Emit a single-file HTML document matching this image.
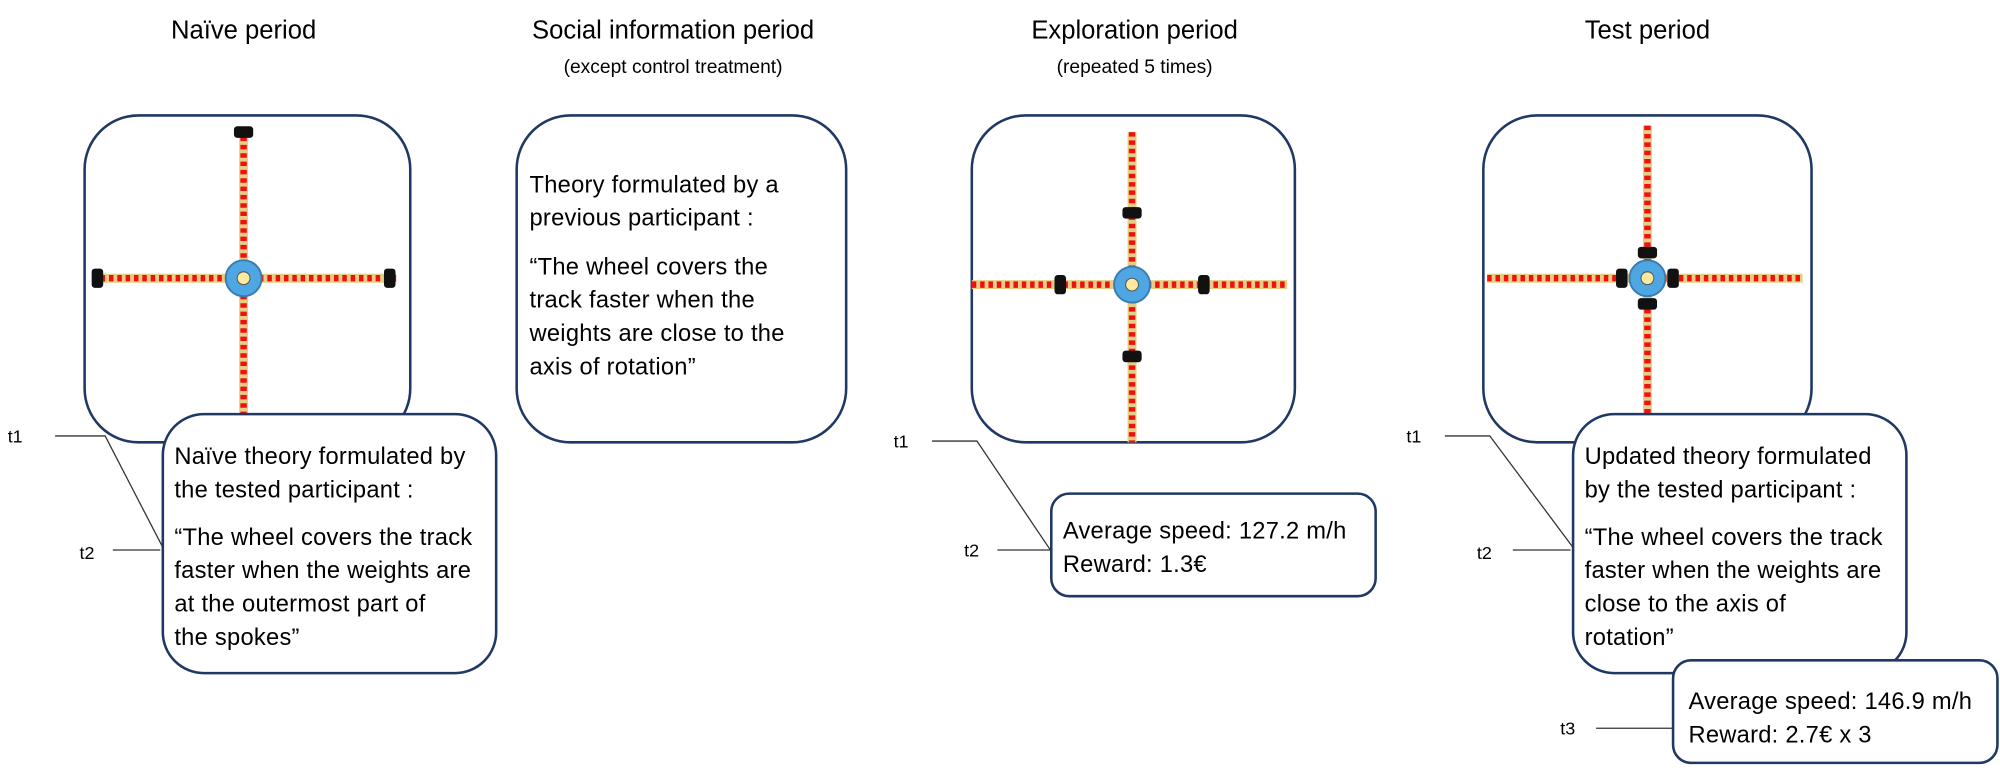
<!DOCTYPE html>
<html><head><meta charset="utf-8"><style>
html,body{margin:0;padding:0;background:#fff;}
svg{display:block;font-family:"Liberation Sans",sans-serif;}
</style></head><body>
<svg width="2000" height="768" viewBox="0 0 1560 599" xmlns="http://www.w3.org/2000/svg">
<g fill="#000" text-anchor="middle">
<text x="190" y="30" font-size="20">Naïve period</text>
<text x="525" y="30" font-size="20">Social information period</text>
<text x="525" y="57" font-size="15">(except control treatment)</text>
<text x="885" y="30" font-size="20">Exploration period</text>
<text x="885" y="57" font-size="15">(repeated 5 times)</text>
<text x="1285" y="30" font-size="20">Test period</text>
</g>
<g fill="#fff" stroke="#1f3864" stroke-width="2">
<rect x="66" y="90" width="254" height="255" rx="42"/>
<rect x="403" y="90" width="257" height="255" rx="42"/>
<rect x="758" y="90" width="252" height="255" rx="42"/>
<rect x="1157" y="90" width="256" height="255" rx="42"/>
</g>
<g id="wheels"></g>
<g fill="#fff" stroke="#1f3864" stroke-width="2">
<rect x="127" y="323" width="260" height="202" rx="32"/>
<rect x="1227" y="323" width="260" height="202" rx="32"/>
<rect x="820" y="385" width="253" height="80" rx="14"/>
<rect x="1305" y="515" width="253" height="80" rx="14"/>
</g>
<g font-size="18.5" fill="#000" letter-spacing="0.2">
<g>
<text x="136" y="362">Naïve theory formulated by</text>
<text x="136" y="388">the tested participant :</text>
<text x="136" y="425">“The wheel covers the track</text>
<text x="136" y="451">faster when the weights are</text>
<text x="136" y="477">at the outermost part of</text>
<text x="136" y="503">the spokes”</text>
</g>
<g>
<text x="413" y="150">Theory formulated by a</text>
<text x="413" y="176">previous participant :</text>
<text x="413" y="214">“The wheel covers the</text>
<text x="413" y="240">track faster when the</text>
<text x="413" y="266">weights are close to the</text>
<text x="413" y="292">axis of rotation”</text>
</g>
<g>
<text x="1236" y="362">Updated theory formulated</text>
<text x="1236" y="388">by the tested participant :</text>
<text x="1236" y="425">“The wheel covers the track</text>
<text x="1236" y="451">faster when the weights are</text>
<text x="1236" y="477">close to the axis of</text>
<text x="1236" y="503">rotation”</text>
</g>
<g>
<text x="829" y="420">Average speed: 127.2 m/h</text>
<text x="829" y="446">Reward: 1.3€</text>
</g>
<g>
<text x="1317" y="553">Average speed: 146.9 m/h</text>
<text x="1317" y="579">Reward: 2.7€ x 3</text>
</g>
</g>
<g font-size="14" fill="#000">
<text x="6" y="345">t1</text><text x="62" y="436">t2</text>
<text x="697" y="349">t1</text><text x="752" y="434">t2</text>
<text x="1097" y="345">t1</text><text x="1152" y="436">t2</text>
<text x="1217" y="573">t3</text>
</g>
<g stroke="#333" stroke-width="1" fill="none">
<polyline points="43,340 82,340 127,427"/><line x1="88" y1="429" x2="125" y2="429"/>
<polyline points="727,344 762,344 820,430"/><line x1="778" y1="429" x2="820" y2="429"/>
<polyline points="1127,340 1162,340 1227,427"/><line x1="1180" y1="429" x2="1225" y2="429"/>
<line x1="1245" y1="568" x2="1305" y2="568"/>
</g>
<script>
const wheelCenters=[[190,217,114,0],[883,222,121,1],[1285,217,121,2]];
const NS="http://www.w3.org/2000/svg";
function mk(t,a,p){const e=document.createElementNS(NS,t);for(const k in a)e.setAttribute(k,a[k]);p.appendChild(e);return e;}
const W=document.getElementById('wheels');
wheelCenters.forEach(([cx,cy,r,i])=>{
  const g=mk('g',{},W);
  
  
  const up=i===0?117:119, dn=i===0?113:123;
  const segs=[[cx-r-4,cy,cx+r+(i===0?5:0),cy],[cx,cy-up,cx,cy+dn]];
  segs.forEach(s=>{
    mk('line',{x1:s[0],y1:s[1],x2:s[2],y2:s[3],stroke:'#e6cf84','stroke-width':7},g);
    mk('line',{x1:s[0],y1:s[1],x2:s[2],y2:s[3],stroke:'#f01010','stroke-width':5,'stroke-dasharray':'3.5 3'},g);
  });
  const d=i===0?114:(i===1?56:20);
  const pts=[[0,-d,1],[0,d,1],[-d,0,0],[d,0,0]];
  pts.forEach(([dx,dy,v])=>{
    if(i===0&&dy>0)return;
    const w=v?15:9,h=v?9:15;
    const wt=mk('rect',{x:cx+dx-w/2,y:cy+dy-h/2,width:w,height:h,rx:2.5,fill:'#111'},g);
    
    
  });
  const hub=mk('circle',{cx:cx,cy:cy,r:14,fill:'#4ea6e2',stroke:'#3a7cb0','stroke-width':1.5},g);
  
  
  mk('circle',{cx:cx,cy:cy,r:5,fill:'#fbe9a0',stroke:'#555','stroke-width':0.8},g);
});
</script>
</svg>
</body></html>
